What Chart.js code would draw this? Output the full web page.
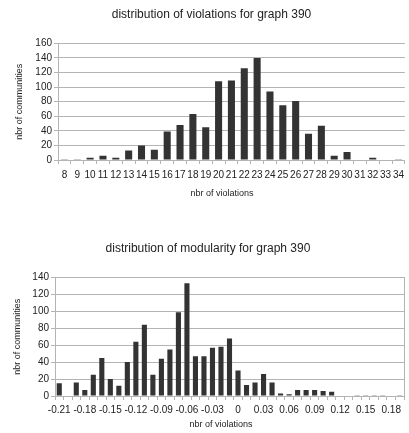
<!DOCTYPE html>
<html lang="en">
<head>
    <meta charset="UTF-8">
    <title>distribution for graph 390</title>
    <style>
        body { margin: 0; background: #ffffff; width: 409px; height: 433px; overflow: hidden; position: relative; }
        .box { position: absolute; left: 0; width: 409px; }
        #top { top: 0; height: 205px; }
        #bottom { top: 228px; height: 205px; }
        .xtitle { position: absolute; width: 120px; text-align: center; font: 9px 'Liberation Sans', Arial, sans-serif; color: #222; }
    </style>
</head>
<body>
    <div class="box" id="top"><canvas id="violChart"></canvas></div>
    <div class="box" id="bottom"><canvas id="modChart"></canvas></div>
    <div class="xtitle" style="left: 162px; top: 188px;">nbr of violations</div>
    <div class="xtitle" style="left: 161px; top: 419px;">nbr of violations</div>

    <script src="https://cdn.jsdelivr.net/npm/chart.js"></script>
    <script>
        // violations histogram
        const violLabels = ['8','9','10','11','12','13','14','15','16','17','18','19','20','21','22','23','24','25','26','27','28','29','30','31','32','33','34'];
        const violCounts = [1, 1, 3, 6, 3, 13, 20, 14, 39, 48, 63, 45, 108, 109, 126, 140, 94, 75, 81, 36, 47, 6, 11, 0, 3, 0, 1];

        // modularity histogram (-0.21 .. 0.19, step 0.01)
        const modLabels = ['-0.21','-0.2','-0.19','-0.18','-0.17','-0.16','-0.15','-0.14','-0.13','-0.12','-0.11','-0.1','-0.09','-0.08','-0.07','-0.06','-0.05','-0.04','-0.03','-0.02','-0.01','0','0.01','0.02','0.03','0.04','0.05','0.06','0.07','0.08','0.09','0.1','0.11','0.12','0.13','0.14','0.15','0.16','0.17','0.18','0.19'];
        const modCounts = [15, 0, 16, 7, 25, 45, 20, 12, 40, 64, 84, 25, 44, 55, 99, 133, 47, 47, 57, 58, 68, 30, 13, 16, 26, 16, 3, 2, 7, 7, 7, 6, 5, 0, 0, 1, 1, 1, 1, 0, 1];
        const modTickText = ['-0.21','-0.18','-0.15','-0.12','-0.09','-0.06','-0.03','0','0.03','0.06','0.09','0.12','0.15','0.18'];

        const FONT = 'Liberation Sans, Arial, sans-serif';
        const TXT = '#222';
        const GRID = '#b4b4b4';

        function makeChart(id, labels, data, opts) {
            const scales = {
                x: {
                    afterFit: s => { s.height = opts.xHeight; },
                    grid: { offset: true, drawOnChartArea: false, color: GRID, tickLength: 4 },
                    border: { color: GRID },
                    ticks: {
                        autoSkip: false,
                        maxRotation: 0,
                        padding: opts.xPad,
                        color: TXT,
                        font: { family: FONT, size: 10 },
                        callback: opts.xCallback
                    }
                },
                y: {
                    afterFit: s => { s.width = opts.yWidth; },
                    min: 0,
                    max: opts.yMax,
                    ticks: { stepSize: 20, autoSkip: false, color: TXT, padding: 2, font: { family: FONT, size: 10 } },
                    grid: { color: GRID, tickLength: 4 },
                    border: { color: GRID },
                    title: {
                        display: true,
                        text: 'nbr of communities',
                        color: TXT,
                        font: { family: FONT, size: 9 },
                        padding: 0
                    }
                }
            };
            if (opts.rightBorder) {
                // plain frame line on the right side of the plot
                scales.yRight = {
                    position: 'right',
                    min: 0,
                    max: opts.yMax,
                    afterFit: s => { s.width = 0; },
                    ticks: { display: false },
                    grid: { drawOnChartArea: false, drawTicks: false },
                    border: { color: GRID }
                };
            }
            return new Chart(document.getElementById(id), {
                type: 'bar',
                data: {
                    labels: labels,
                    datasets: [{
                        data: data,
                        backgroundColor: '#333333',
                        borderWidth: 0,
                        barPercentage: opts.barPct,
                        categoryPercentage: 1
                    }]
                },
                options: {
                    responsive: true,
                    maintainAspectRatio: false,
                    animation: false,
                    layout: { padding: { left: opts.padLeft, right: opts.padRight, top: 0, bottom: 0 } },
                    plugins: {
                        legend: { display: false },
                        tooltip: { enabled: false },
                        title: {
                            display: true,
                            text: opts.title,
                            color: TXT,
                            font: { family: FONT, size: 12, weight: 'normal' },
                            padding: { top: opts.titleTop, bottom: opts.titleBottom }
                        }
                    },
                    scales: scales
                }
            });
        }

        makeChart('violChart', violLabels, violCounts, {
            title: 'distribution of violations for graph 390',
            titleTop: 7, titleBottom: 22,
            barPct: 0.55, yMax: 160,
            xHeight: 45, xPad: 5,
            padLeft: 14, yWidth: 44, padRight: 0,
            xCallback: function (v, i) { return violLabels[i]; }
        });

        makeChart('modChart', modLabels, modCounts, {
            title: 'distribution of modularity for graph 390',
            titleTop: 13, titleBottom: 22,
            barPct: 0.6, yMax: 140,
            xHeight: 37, xPad: 4,
            padLeft: 12, yWidth: 43, padRight: 5,
            rightBorder: true,
            xCallback: function (v, i) { return i % 3 === 0 ? modTickText[i / 3] : ''; }
        });
    </script>
</body>
</html>
